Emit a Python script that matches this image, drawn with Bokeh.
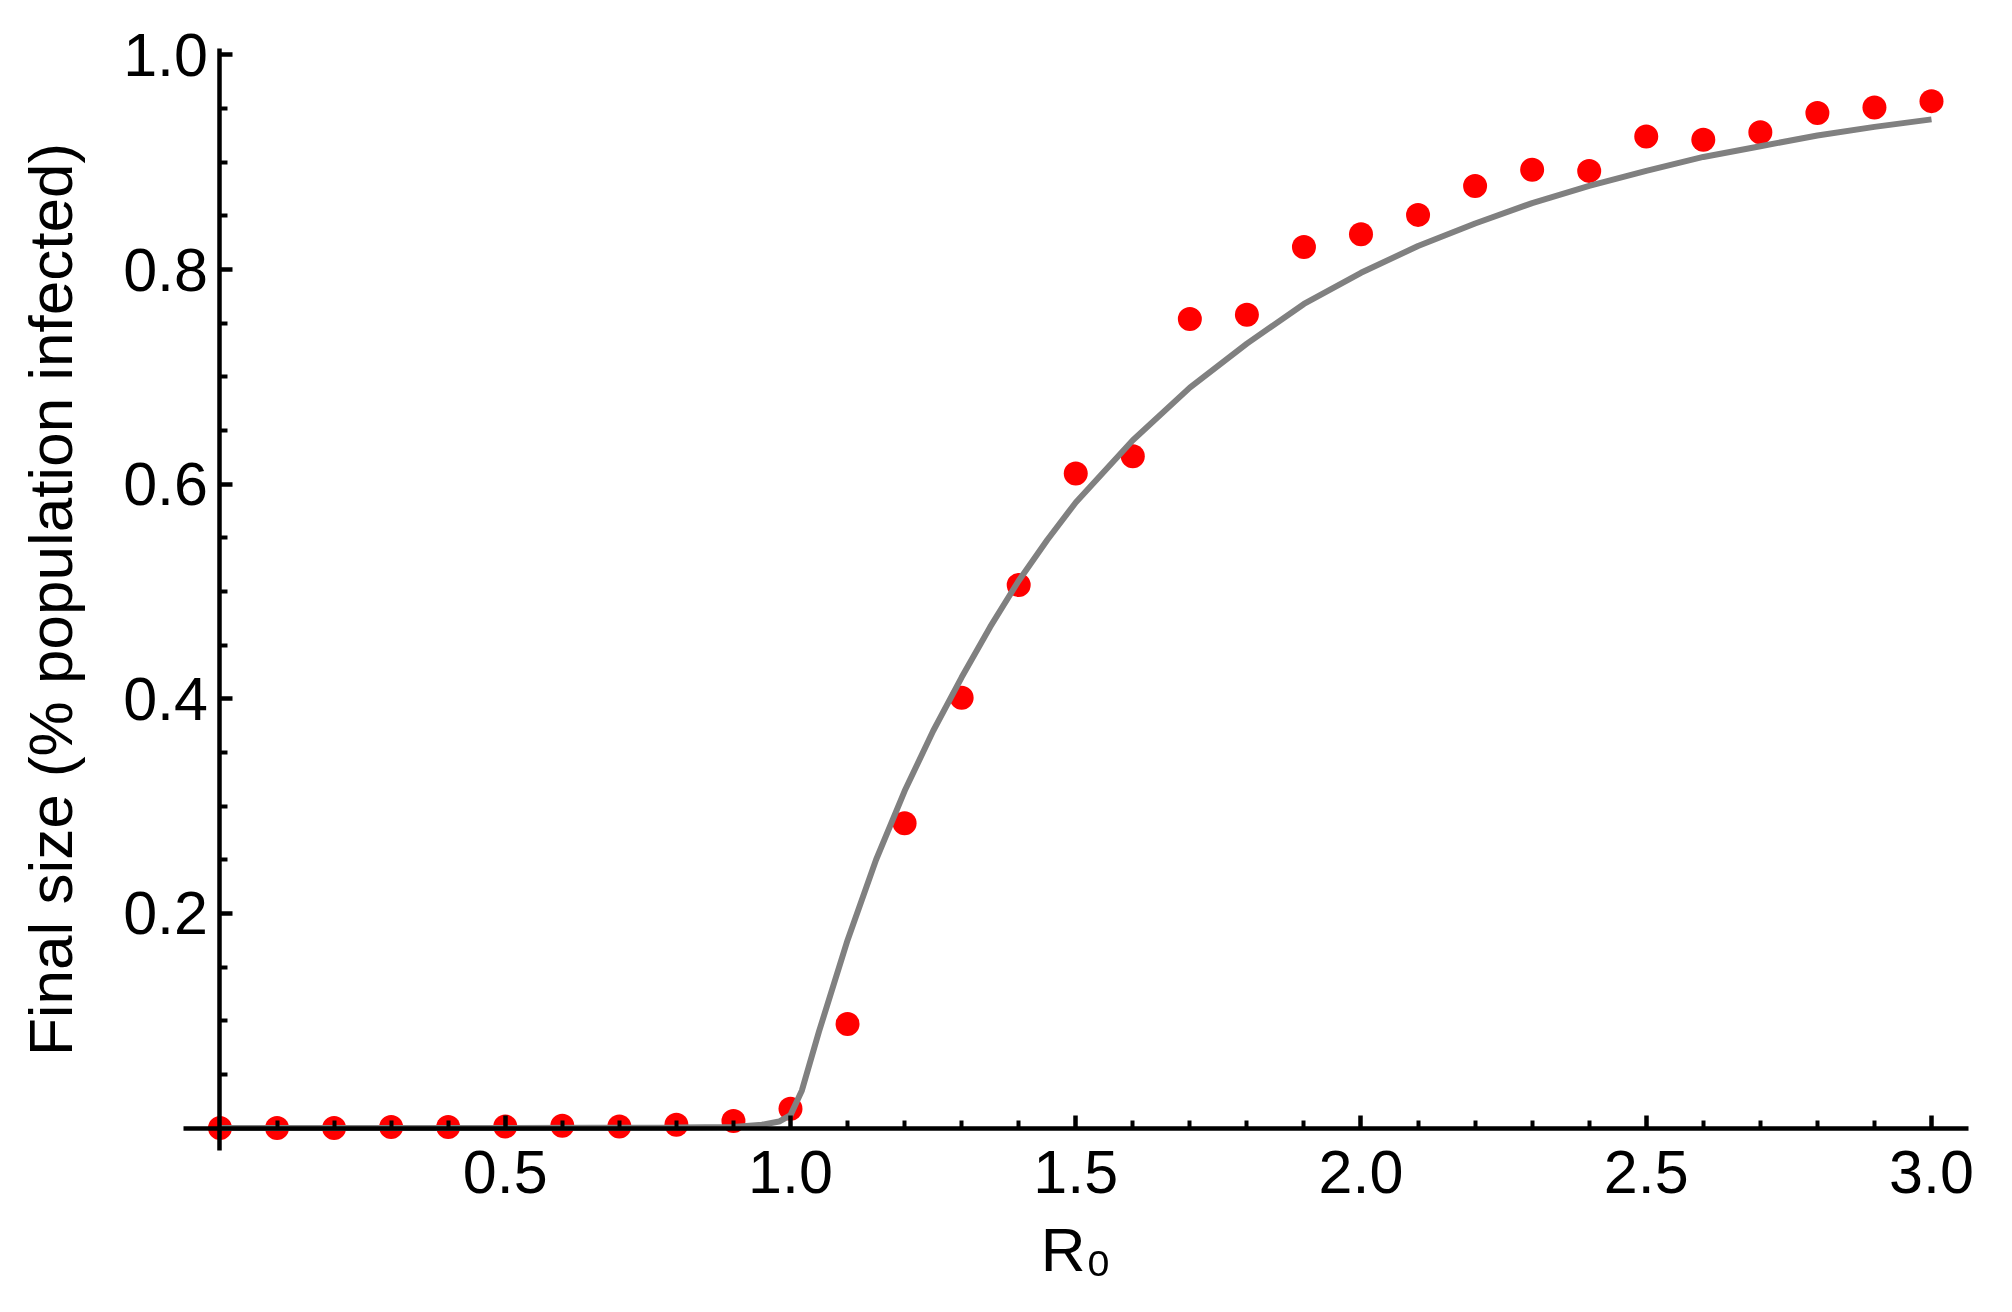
from bokeh.plotting import figure
from bokeh.models import Range1d, FixedTicker, LinearAxis
from bokeh.embed import file_html
from bokeh.resources import INLINE

# ---- data ----
r0_points = [0.0, 0.1, 0.2, 0.3, 0.4, 0.5, 0.6, 0.7, 0.8, 0.9,
             1.0, 1.1, 1.2, 1.3, 1.4, 1.5, 1.6, 1.7, 1.8, 1.9,
             2.0, 2.1, 2.2, 2.3, 2.4, 2.5, 2.6, 2.7, 2.8, 2.9, 3.0]
final_size_points = [0.0, 0.0, 0.0, 0.001, 0.001, 0.0015, 0.002, 0.0015, 0.003, 0.0065,
                     0.018, 0.097, 0.284, 0.401, 0.506, 0.610, 0.626, 0.754, 0.758, 0.821,
                     0.833, 0.851, 0.878, 0.893, 0.892, 0.924, 0.921, 0.928, 0.946, 0.951, 0.957]

curve_r0 = [0.0, 0.5, 0.8, 0.9, 0.95, 0.98, 1.0, 1.02, 1.05, 1.1, 1.15, 1.2, 1.25, 1.3,
            1.35, 1.4, 1.45, 1.5, 1.6, 1.7, 1.8, 1.9, 2.0, 2.1, 2.2, 2.3, 2.4, 2.5,
            2.6, 2.7, 2.8, 2.9, 3.0]
curve_final = [0.0, 0.0, 0.0005, 0.001, 0.003, 0.006, 0.012, 0.035, 0.09, 0.175, 0.25, 0.314,
               0.37, 0.42, 0.467, 0.51, 0.548, 0.583, 0.641, 0.69, 0.731, 0.768, 0.797,
               0.822, 0.843, 0.862, 0.878, 0.892, 0.905, 0.915, 0.925, 0.933, 0.94]

x_major_ticks = [0.5, 1.0, 1.5, 2.0, 2.5, 3.0]
x_major_labels = ["0.5", "1.0", "1.5", "2.0", "2.5", "3.0"]
x_minor_ticks = [0.1, 0.2, 0.3, 0.4, 0.6, 0.7, 0.8, 0.9, 1.1, 1.2, 1.3, 1.4,
                 1.6, 1.7, 1.8, 1.9, 2.1, 2.2, 2.3, 2.4, 2.6, 2.7, 2.8, 2.9]
y_major_ticks = [0.2, 0.4, 0.6, 0.8, 1.0]
y_major_labels = ["0.2", "0.4", "0.6", "0.8", "1.0"]
y_minor_ticks = [0.05, 0.1, 0.15, 0.25, 0.3, 0.35, 0.45, 0.5, 0.55, 0.65, 0.7,
                 0.75, 0.85, 0.9, 0.95]

x_label = "R\u2080"
y_label = "Final size (% population infected)"

FONT = "Liberation Sans"

# axis-line extents (where the drawn axes stop)
x_axis_bounds = (-0.064, 3.064)
y_axis_bounds = (-0.021, 1.006)

p = figure(width=2000, height=1300, output_backend="svg", toolbar_location=None,
           x_range=Range1d(-0.38475, 3.12095), y_range=Range1d(-0.16076, 1.05079),
           x_axis_type=None, y_axis_type=None, min_border=0)
p.outline_line_color = None
p.xgrid.visible = False
p.ygrid.visible = False
p.background_fill_color = "white"
p.border_fill_color = "white"

p.scatter(r0_points, final_size_points, size=24, fill_color="#FF0000",
          line_color=None, marker="circle")
p.line(curve_r0, curve_final, line_color="#808080", line_width=6)

xaxis = LinearAxis(fixed_location=0, bounds=x_axis_bounds,
                   ticker=FixedTicker(ticks=x_major_ticks, minor_ticks=x_minor_ticks),
                   major_label_overrides=dict(zip(x_major_ticks, x_major_labels)))
yaxis = LinearAxis(fixed_location=0, bounds=y_axis_bounds,
                   ticker=FixedTicker(ticks=y_major_ticks, minor_ticks=y_minor_ticks),
                   major_label_overrides=dict(zip(y_major_ticks, y_major_labels)))

for ax in (xaxis, yaxis):
    ax.axis_line_color = "black"
    ax.axis_line_width = 4.5
    ax.major_tick_line_color = "black"
    ax.major_tick_line_width = 4.5
    ax.minor_tick_line_color = "black"
    ax.minor_tick_line_width = 4
    ax.major_tick_out = 0
    ax.major_tick_in = 13
    ax.minor_tick_out = 0
    ax.minor_tick_in = 8
    ax.major_label_text_font = FONT
    ax.major_label_text_font_size = "61px"
    ax.major_label_text_color = "black"
    ax.axis_label_text_font = FONT
    ax.axis_label_text_font_style = "normal"
    ax.axis_label_text_color = "black"

xaxis.axis_label = x_label
yaxis.axis_label = y_label
xaxis.axis_label_text_font_size = "62px"
yaxis.axis_label_text_font_size = "62px"
xaxis.major_label_standoff = 23
xaxis.axis_label_standoff = 18
yaxis.major_label_standoff = 12
yaxis.axis_label_standoff = 35

p.add_layout(xaxis, "below")
p.add_layout(yaxis, "left")

open("out.html", "w").write(file_html(p, INLINE))
